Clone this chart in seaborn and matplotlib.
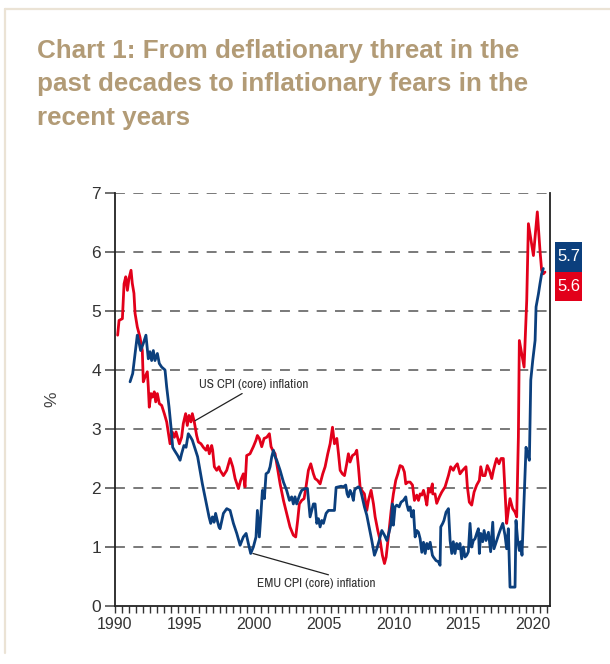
import matplotlib
matplotlib.use("Agg")
import matplotlib.pyplot as plt
from matplotlib import font_manager
from matplotlib.patches import Rectangle
from matplotlib.lines import Line2D
import numpy as np
import pandas as pd
import seaborn as sns

# === data ===
US_YEAR = [1990.19, 1990.29, 1990.53, 1990.65, 1990.77, 1990.89, 1991.00, 1991.15, 1991.24, 1991.36,
           1991.44, 1991.60, 1991.79, 1991.96, 1992.03, 1992.15, 1992.32, 1992.39, 1992.46, 1992.58,
           1992.68, 1992.82, 1992.92, 1993.04, 1993.18, 1993.35, 1993.54, 1993.71, 1993.95, 1994.11,
           1994.26, 1994.38, 1994.62, 1994.78, 1994.90, 1995.07, 1995.19, 1995.31, 1995.45, 1995.55,
           1995.69, 1995.86, 1995.98, 1996.17, 1996.34, 1996.53, 1996.65, 1996.77, 1996.94, 1997.01,
           1997.13, 1997.30, 1997.46,
           1997.54, 1997.78, 1998.02, 1998.26, 1998.45, 1998.62, 1998.86, 1999.02, 1999.21, 1999.33,
           1999.45, 1999.69, 1999.81, 1999.93, 2000.12, 2000.22, 2000.36, 2000.53, 2000.70, 2000.89,
           2001.08, 2001.20, 2001.32, 2001.49, 2001.61, 2001.85, 2002.09, 2002.32, 2002.56, 2002.80,
           2002.97, 2003.11, 2003.23, 2003.40, 2003.57, 2003.71, 2003.88, 2004.05, 2004.24, 2004.36,
           2004.53, 2004.72, 2004.91, 2005.08, 2005.27,
           2005.44, 2005.61, 2005.75, 2005.92, 2006.04, 2006.16, 2006.32, 2006.47, 2006.63, 2006.75,
           2006.87, 2007.04, 2007.23, 2007.35, 2007.47, 2007.59, 2007.71, 2007.90, 2008.07, 2008.19,
           2008.38, 2008.55, 2008.67, 2008.86, 2009.03, 2009.19, 2009.34, 2009.46, 2009.58, 2009.67,
           2009.82, 2009.98, 2010.15, 2010.30, 2010.46, 2010.63, 2010.77, 2010.87, 2011.01, 2011.18,
           2011.35, 2011.49, 2011.66, 2011.78, 2011.90, 2012.02, 2012.14, 2012.26, 2012.38, 2012.50,
           2012.62, 2012.78,
           2012.80, 2012.97, 2013.09, 2013.28, 2013.45, 2013.69, 2013.93, 2014.09, 2014.28, 2014.40,
           2014.57, 2014.76, 2014.95, 2015.19, 2015.29, 2015.43, 2015.60, 2015.77, 2015.96, 2016.15,
           2016.25, 2016.39, 2016.56, 2016.72, 2016.87, 2017.04, 2017.16, 2017.28, 2017.39, 2017.56,
           2017.71, 2017.87, 2017.99, 2018.11, 2018.23, 2018.35, 2018.54, 2018.71, 2018.83, 2018.95,
           2019.02, 2019.19, 2019.36, 2019.55, 2019.67, 2019.86, 2020.03, 2020.17, 2020.31, 2020.50,
           2020.62, 2020.74, 2020.86]
US_CPI = [4.59, 4.84, 4.87, 5.46, 5.58, 5.35, 5.55, 5.69, 5.47, 5.30,
          4.96, 4.73, 4.56, 4.33, 3.80, 3.88, 3.97, 3.71, 3.37, 3.60,
          3.54, 3.63, 3.46, 3.60, 3.43, 3.40, 3.26, 3.12, 2.75, 2.95,
          2.86, 2.95, 2.75, 2.86, 3.09, 3.26, 3.06, 3.23, 3.12, 3.26,
          3.12, 2.89, 2.78, 2.75, 2.69, 2.64, 2.72, 2.58, 2.72, 2.64,
          2.36, 2.30, 2.36,
          2.30, 2.21, 2.30, 2.50, 2.36, 2.16, 1.99, 2.13, 2.24, 2.02,
          2.55, 2.58, 2.64, 2.70, 2.81, 2.89, 2.84, 2.70, 2.84, 2.86,
          2.92, 2.70, 2.64, 2.58, 2.41, 2.07, 1.79, 1.57, 1.34, 1.20,
          1.17, 1.45, 1.73, 1.79, 1.82, 2.02, 2.30, 2.41, 2.24, 2.16,
          2.13, 2.07, 2.24, 2.36, 2.58,
          2.75, 3.03, 2.75, 2.84, 2.58, 2.30, 2.24, 2.21, 2.41, 2.58,
          2.44, 2.55, 2.58, 2.64, 2.36, 2.02, 1.96, 1.90, 1.62, 1.79,
          1.96, 1.73, 1.51, 1.28, 1.11, 0.86, 0.72, 0.83, 1.08, 1.28,
          1.62, 1.90, 2.13, 2.24, 2.38, 2.36, 2.27, 2.07, 2.10, 2.10,
          2.05, 1.79, 1.88, 1.79, 1.90, 1.88, 1.96, 1.85, 1.71, 1.99,
          1.93, 2.07,
          1.90, 1.90, 1.74, 1.85, 1.93, 2.02, 2.21, 2.36, 2.30, 2.36,
          2.41, 2.24, 2.30, 2.36, 2.02, 1.76, 1.71, 1.93, 2.05, 2.13,
          2.36, 2.21, 2.21, 2.38, 2.30, 2.16, 2.30, 2.41, 2.50, 2.41,
          2.50, 2.50, 1.96, 1.40, 1.62, 1.82, 1.65, 1.59, 1.51, 2.86,
          4.50, 4.28, 4.05, 5.18, 6.48, 6.20, 5.94, 6.31, 6.68, 6.03,
          5.69, 5.63, 5.66]

EMU_YEAR = [1991.08, 1991.27, 1991.44, 1991.60, 1991.72, 1991.84, 1992.03, 1992.22, 1992.39, 1992.51,
            1992.63, 1992.75, 1992.87, 1993.04, 1993.18, 1993.35, 1993.59, 1993.71, 1993.88, 1994.02,
            1994.14, 1994.26, 1994.50, 1994.67, 1994.78, 1994.95, 1995.10, 1995.26, 1995.43, 1995.55,
            1995.74, 1995.93, 1996.10, 1996.27, 1996.46, 1996.63, 1996.75, 1996.87, 1996.99, 1997.11,
            1997.22, 1997.34, 1997.46,
            1997.54, 1997.78, 1998.02, 1998.26, 1998.50, 1998.74, 1998.98, 1999.21, 1999.41, 1999.57,
            1999.74, 1999.93, 2000.12, 2000.22, 2000.36, 2000.46, 2000.58, 2000.72, 2000.84, 2001.01,
            2001.13, 2001.25, 2001.37, 2001.49, 2001.61, 2001.85, 2002.09, 2002.32, 2002.52, 2002.68,
            2002.80, 2002.92, 2003.04, 2003.16, 2003.28, 2003.40, 2003.64, 2003.81, 2004.00, 2004.12,
            2004.24, 2004.36, 2004.48, 2004.60, 2004.72, 2004.84, 2004.96, 2005.15, 2005.32,
            2005.75, 2005.87, 2006.04, 2006.23, 2006.40, 2006.56, 2006.66, 2006.75, 2006.87, 2006.99,
            2007.11, 2007.19, 2007.28, 2007.47, 2007.59, 2007.71, 2007.90, 2008.07, 2008.24, 2008.43,
            2008.62, 2008.79, 2008.96, 2009.15, 2009.34, 2009.51, 2009.67, 2009.82, 2009.91, 2009.98,
            2010.10, 2010.22, 2010.39, 2010.53, 2010.70, 2010.87, 2010.94, 2011.06, 2011.18, 2011.30,
            2011.42, 2011.54, 2011.66, 2011.78, 2011.90, 2012.02, 2012.14, 2012.26, 2012.38, 2012.50,
            2012.62, 2012.78,
            2012.85, 2013.04, 2013.21, 2013.33, 2013.38, 2013.52, 2013.61, 2013.76, 2013.93, 2014.05,
            2014.17, 2014.28, 2014.40, 2014.52, 2014.64, 2014.76, 2014.88, 2015.00, 2015.12, 2015.24,
            2015.36, 2015.48, 2015.60, 2015.72, 2015.84, 2015.96, 2016.08, 2016.15, 2016.25, 2016.39,
            2016.49, 2016.63, 2016.80, 2016.96, 2017.11, 2017.20, 2017.39, 2017.56, 2017.68, 2017.83,
            2017.99, 2018.11, 2018.23, 2018.35, 2018.71, 2018.78, 2018.90, 2019.02, 2019.12, 2019.21,
            2019.36, 2019.50, 2019.60, 2019.74, 2019.84, 2019.98, 2020.15, 2020.22, 2020.39, 2020.50,
            2020.62, 2020.74]
EMU_CPI = [3.80, 3.94, 4.28, 4.59, 4.47, 4.33, 4.45, 4.59, 4.19, 4.31,
           4.16, 4.33, 4.16, 4.28, 4.11, 4.05, 4.00, 3.71, 3.37, 3.03,
           2.69, 2.64, 2.55, 2.47, 2.58, 2.72, 2.69, 2.92, 2.86, 2.81,
           2.67, 2.53, 2.30, 2.07, 1.85, 1.65, 1.51, 1.40, 1.51, 1.42,
           1.57, 1.45, 1.34,
           1.31, 1.57, 1.65, 1.62, 1.40, 1.23, 1.03, 1.17, 1.23, 1.06,
           0.89, 1.00, 1.17, 1.62, 1.17, 1.51, 1.96, 1.82, 2.24, 2.27,
           2.36, 2.53, 2.64, 2.53, 2.47, 2.30, 2.10, 1.96, 1.79, 1.85,
           1.73, 1.85, 1.73, 1.82, 1.90, 1.96, 1.99, 1.99, 1.51, 1.62,
           1.73, 1.73, 1.40, 1.48, 1.34, 1.45, 1.40, 1.57, 1.62,
           1.62, 2.01, 2.02, 2.03, 2.02, 2.05, 1.90, 1.85, 1.96, 1.90,
           1.79, 1.96, 1.99, 2.02, 1.99, 1.88, 1.68, 1.54, 1.34, 1.11,
           0.86, 0.97, 1.11, 1.28, 1.20, 1.11, 1.25, 1.40, 1.73, 1.37,
           1.68, 1.71, 1.68, 1.76, 1.79, 1.85, 1.73, 1.62, 1.68, 1.51,
           1.62, 1.17, 1.28, 1.25, 1.14, 0.91, 1.08, 0.89, 1.06, 0.97,
           1.08, 0.86,
           0.83, 0.77, 0.75, 0.69, 1.34, 1.40, 1.45, 1.59, 1.65, 1.11,
           0.89, 1.09, 0.89, 1.06, 0.97, 1.06, 0.80, 1.00, 0.83, 0.86,
           0.92, 1.40, 1.00, 1.11, 1.14, 1.23, 1.31, 0.89, 1.23, 1.09,
           1.28, 1.11, 1.25, 0.92, 1.42, 0.97, 1.11, 1.23, 1.31, 1.40,
           1.20, 0.97, 1.31, 0.32, 0.32, 1.45, 1.11, 0.94, 1.09, 0.86,
           1.79, 2.69, 2.58, 2.47, 3.83, 4.16, 4.50, 5.07, 5.29, 5.46,
           5.63, 5.72]

LATEST = {"EMU": "5.7", "US": "5.6"}
TITLE = "Chart 1: From deflationary threat in the\npast decades to inflationary fears in the\nrecent years"
X_TICKS = [1990, 1995, 2000, 2005, 2010, 2015, 2020]
Y_TICKS = [0, 1, 2, 3, 4, 5, 6, 7]

# === style ===
BLUE = "#0b3f7d"
RED = "#e2001a"
TAN = "#b29b76"
TXT = "#333333"

sns.set_style("ticks")
plt.rcParams["font.family"] = ["Liberation Sans", "DejaVu Sans"]


def narrow_font():
    # look for any condensed / narrow face that is installed
    for f in font_manager.fontManager.ttflist:
        name = f.name.lower()
        if ("narrow" in name or "condensed" in name) and "mono" not in name:
            return {"family": [f.name, "DejaVu Sans"], "fontsize": 9.6}
    for f in font_manager.fontManager.ttflist:
        if f.stretch in ("condensed", "semi-condensed") and "mono" not in f.name.lower():
            return {"family": [f.name, "DejaVu Sans"], "fontstretch": f.stretch, "fontsize": 9.6}
    return {"family": ["Liberation Sans", "DejaVu Sans"], "fontsize": 8.8}


us = pd.DataFrame({"year": US_YEAR, "cpi": US_CPI})
emu = pd.DataFrame({"year": EMU_YEAR, "cpi": EMU_CPI})

fig = plt.figure(figsize=(6.1, 6.64), dpi=100)
ax = fig.add_axes([115 / 610, 58 / 664, 435 / 610, 413 / 664])

sns.lineplot(data=us, x="year", y="cpi", ax=ax, color=RED, lw=2.0, estimator=None, sort=False)
sns.lineplot(data=emu, x="year", y="cpi", ax=ax, color=BLUE, lw=2.0, estimator=None, sort=False)

ax.set_xlim(1990, 2021.22)
ax.set_ylim(0, 7)
ax.set_yticks(Y_TICKS)
ax.set_xticks(X_TICKS)
ax.set_xticks(np.arange(1990, 2021.1, 0.5), minor=True)
ax.tick_params(axis="y", length=7, width=1.2, color="#555555", labelsize=12.5,
               labelcolor=TXT, pad=3)
ax.tick_params(axis="x", which="both", length=5, width=1.0, color="#333333",
               labelsize=11.5, labelcolor=TXT, pad=3)
ax.set_xlabel("")
ax.set_ylabel("%", fontsize=12.5, color="#444444", labelpad=23)

for y in Y_TICKS[1:]:
    ax.axhline(y, color="#555555", lw=1.1, linestyle=(0, (6.5, 5.5)), zorder=0)

for side in ["left", "right", "bottom"]:
    ax.spines[side].set_visible(True)
    ax.spines[side].set_linewidth(1.3)
    ax.spines[side].set_color("#222222")
ax.spines["top"].set_visible(False)

# series labels with pointer lines
nf = narrow_font()
ax.annotate("US CPI (core) inflation", xy=(1995.74, 3.14), xytext=(1996.0, 3.75),
            color=TXT, ha="left", va="center",
            arrowprops=dict(arrowstyle="-", color="#222222", lw=0.9,
                            shrinkA=0, shrinkB=0, relpos=(0.45, 0.0)), **nf)
ax.annotate("EMU CPI (core) inflation", xy=(1999.9, 0.89), xytext=(2000.2, 0.38),
            color=TXT, ha="left", va="center",
            arrowprops=dict(arrowstyle="-", color="#222222", lw=0.9,
                            shrinkA=0, shrinkB=0, relpos=(0.7, 1.0)), **nf)

# latest value boxes right of the plot
for i, (key, col) in enumerate([("EMU", BLUE), ("US", RED)]):
    y0 = 1 - (242 + 29.5 * i + 29.5) / 664
    fig.add_artist(Rectangle((555 / 610, y0), 27 / 610, 29.5 / 664,
                             transform=fig.transFigure, color=col, lw=0))
    fig.text(568.5 / 610, y0 + 14.5 / 664, LATEST[key], color="white",
             fontsize=12, ha="center", va="center")

# title
fig.text(37 / 610, 1 - 39 / 664, TITLE, fontsize=18.7, color=TAN, fontweight="bold",
         ha="left", va="top", linespacing=1.5)

# light frame lines
fig.add_artist(Line2D([5 / 610, 1], [1 - 9 / 664, 1 - 9 / 664], transform=fig.transFigure,
                      color="#ebe3d5", lw=1.6))
fig.add_artist(Line2D([5 / 610, 5 / 610], [1 - 9 / 664, 1 - 653 / 664], transform=fig.transFigure,
                      color="#ebe3d5", lw=1.6))

fig.savefig("out.png", dpi=100, facecolor="white")
